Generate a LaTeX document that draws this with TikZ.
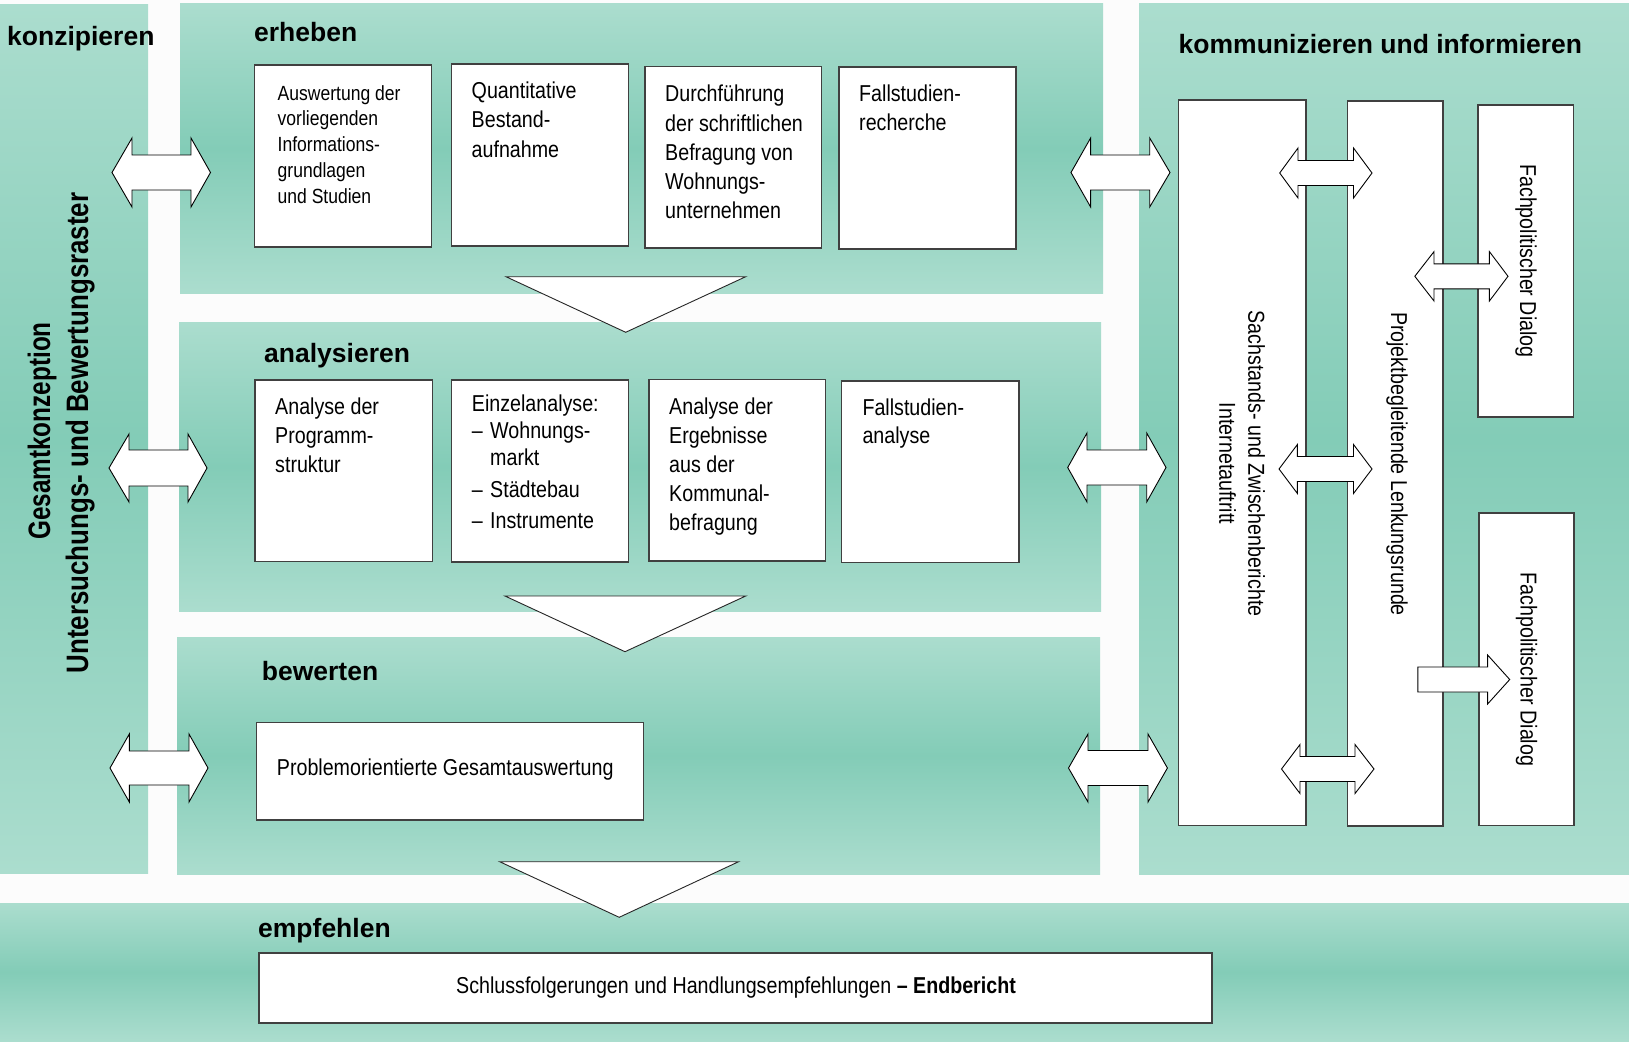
\documentclass[tikz,border=0pt]{standalone}
\usepackage{fontspec}
\usepackage{graphicx}
\setmainfont{Liberation Sans}[FakeStretch=0.855]
\newfontfamily\headfont{Liberation Sans}
\definecolor{pLight}{RGB}{171,221,206}
\definecolor{pDark}{RGB}{131,204,183}
\definecolor{bgw}{RGB}{252,252,252}
\newcommand\firstl{\rule{0pt}{20pt}}
% double block arrow: x-left-tip, x-left-base, x-right-base, x-right-tip, y-center, head half, shaft half
\newcommand\dblarrow[7]{\path[barrow] ({#1},{#5}) -- ({#2},{#5-#6}) -- ({#2},{#5-#7}) -- ({#3},{#5-#7}) -- ({#3},{#5-#6}) -- ({#4},{#5}) -- ({#3},{#5+#6}) -- ({#3},{#5+#7}) -- ({#2},{#5+#7}) -- ({#2},{#5+#6}) -- cycle;}
% single block arrow: x-tail, x-base, x-tip, y-center, head half, shaft half
\newcommand\sglarrow[6]{\path[barrow] ({#1},{#4-#6}) -- ({#2},{#4-#6}) -- ({#2},{#4-#5}) -- ({#3},{#4}) -- ({#2},{#4+#5}) -- ({#2},{#4+#6}) -- ({#1},{#4+#6}) -- cycle;}
\begin{document}
\begin{tikzpicture}[x=1pt,y=-1pt,
  panel/.style={top color=pLight,bottom color=pLight,middle color=pDark,draw=none},
  wbox/.style={fill=white,draw=black!75,line width=1.1pt},
  barrow/.style={fill=white,draw=black,line width=0.9pt,line join=miter},
  tri/.style={fill=white,draw=black!85,line width=0.9pt},
  boxtxt/.style={inner sep=0pt,anchor=north west,align=left,font=\fontsize{23}{29.3}\selectfont},
  head/.style={inner sep=0pt,anchor=base west,font=\headfont\bfseries\fontsize{26.5}{30}\selectfont},
  vtxt/.style={inner sep=0pt,rotate=-90,align=center,font=\fontsize{23}{29}\selectfont},
  gtxt/.style={inner sep=0pt,rotate=90,anchor=base,font=\headfont\bfseries\fontsize{31}{36}\selectfont}]
\fill[bgw] (0,0) rectangle (1629,1041);
\useasboundingbox (0,0) rectangle (1629,1041);

% panels
\path[panel] (0,5) rectangle (148,873);
\path[panel] (180,4) rectangle (1103,293);
\path[panel] (179,322) rectangle (1101,611);
\path[panel] (177,637) rectangle (1100,874);
\path[panel] (1139,4) rectangle (1629,874);
\path[panel] (0,903) rectangle (1629,1041);

% headings
\node[head] (hkonz) at (7,46) {konzipieren};
\node[head] (herh) at (254,41.7) {erheben};
\node[head] (hana) at (264,362.7) {analysieren};
\node[head] (hbew) at (261.7,680.7) {bewerten};
\node[head] (hemp) at (258,937) {empfehlen};
\node[head] (hkomm) at (1178.5,53) {kommunizieren und informieren};

% left rotated titles
\node[gtxt] (gesamt) at (50,431) {\scalebox{0.784}[1]{Gesamtkonzeption}};
\node[gtxt] (raster) at (88,433) {\scalebox{0.836}[1]{Untersuchungs- und Bewertungsraster}};

% erheben boxes
\draw[wbox] (254.5,65) rectangle (431.7,247);
\draw[wbox] (451.6,64) rectangle (628.5,246);
\draw[wbox] (645,66.7) rectangle (821.7,248);
\draw[wbox] (839,67) rectangle (1016,249);
\node[boxtxt,font=\fontsize{20.5}{25.7}\selectfont] (t1) at (277.5,80) {\firstl Auswertung der\\vorliegenden\\Informations-\\grundlagen\\und Studien};
\node[boxtxt,font=\fontsize{23}{29.5}\selectfont] (t2) at (471.5,78) {\firstl Quantitative\\Bestand-\\aufnahme};
\node[boxtxt,font=\fontsize{23}{29.2}\selectfont] (t3) at (665,81.7) {\firstl Durchführung\\der schriftlichen\\Befragung von\\Wohnungs-\\unternehmen};
\node[boxtxt,font=\fontsize{23}{29.5}\selectfont] (t4) at (859,81) {\firstl Fallstudien-\\recherche};

% analysieren boxes
\draw[wbox] (255,380) rectangle (432.3,561.7);
\draw[wbox] (451.7,380) rectangle (628.3,562);
\draw[wbox] (649,379.3) rectangle (825.7,561);
\draw[wbox] (841.7,381) rectangle (1019,562.7);
\node[boxtxt] (t5) at (275,394) {\firstl Analyse der\\Programm-\\struktur};
\node[boxtxt,font=\fontsize{23}{27}\selectfont] (t6) at (471.7,391.7) {\firstl Einzelanalyse:\\\makebox[18.3pt][l]{–}Wohnungs-\\\hspace*{18.3pt}markt\\[5pt]\makebox[18.3pt][l]{–}Städtebau\\[4pt]\makebox[18.3pt][l]{–}Instrumente};
\node[boxtxt,font=\fontsize{23}{29}\selectfont] (t7) at (669,394) {\firstl Analyse der\\Ergebnisse\\aus der\\Kommunal-\\befragung};
\node[boxtxt,font=\fontsize{23}{28}\selectfont] (t8) at (862.3,395) {\firstl Fallstudien-\\analyse};

% bewerten box
\draw[wbox] (256.3,722.7) rectangle (643.7,820);
\node[inner sep=0pt,anchor=base west,font=\fontsize{23}{28}\selectfont] (t9) at (276.7,775.7) {Problemorientierte Gesamtauswertung};

% empfehlen box
\draw[wbox] (259,953) rectangle (1212,1023);
\node[inner sep=0pt,anchor=base,font=\fontsize{23}{28}\selectfont] (t10) at (736,993) {Schlussfolgerungen und Handlungsempfehlungen \textbf{– Endbericht}};

% triangles
\path[tri] (506,276.7) -- (745.7,276.7) -- (625.7,332.3) -- cycle;
\path[tri] (505,596) -- (745.7,596) -- (625,651.7) -- cycle;
\path[tri] (499.7,861.7) -- (738.6,861.7) -- (619.2,917.3) -- cycle;

% right panel boxes
\draw[wbox] (1178.5,100) rectangle (1306,825.7);
\draw[wbox] (1347.6,101) rectangle (1443,826);
\draw[wbox] (1478,105) rectangle (1573.6,417);
\draw[wbox] (1479,513) rectangle (1574,825.7);
\node[vtxt] (sach) at (1242,463.5) {Sachstands- und Zwischenberichte\\Internetauftritt};
\node[vtxt] (proj) at (1397,464) {Projektbegleitende Lenkungsrunde};
\node[vtxt] (fach1) at (1526,261) {Fachpolitischer Dialog};
\node[vtxt] (fach2) at (1526.5,669.5) {Fachpolitischer Dialog};

% left block arrows
\dblarrow{112}{132}{191}{210.5}{172.5}{34.5}{17.5}
\dblarrow{109}{129}{188}{207}{468}{34}{18}
\dblarrow{110}{129.3}{189}{208}{768}{34}{17}
% right block arrows
\dblarrow{1071}{1090.6}{1149.7}{1170}{172.5}{34.5}{17.5}
\dblarrow{1067.7}{1087}{1146.7}{1166}{467.5}{34.5}{17.5}
\dblarrow{1068.5}{1088}{1148}{1167.4}{768}{34}{17.5}
% inner arrows
\dblarrow{1279.7}{1298}{1353.5}{1372}{173}{25}{12.5}
\dblarrow{1279}{1297.4}{1353.5}{1372}{469}{24.5}{12.5}
\dblarrow{1281.5}{1300}{1355}{1374}{769}{24.5}{12.5}
\dblarrow{1414.8}{1434}{1489.4}{1508}{276.3}{24.7}{12.5}
\sglarrow{1417.8}{1487.6}{1509.7}{679.5}{24.5}{12.5}
\end{tikzpicture}
\end{document}
